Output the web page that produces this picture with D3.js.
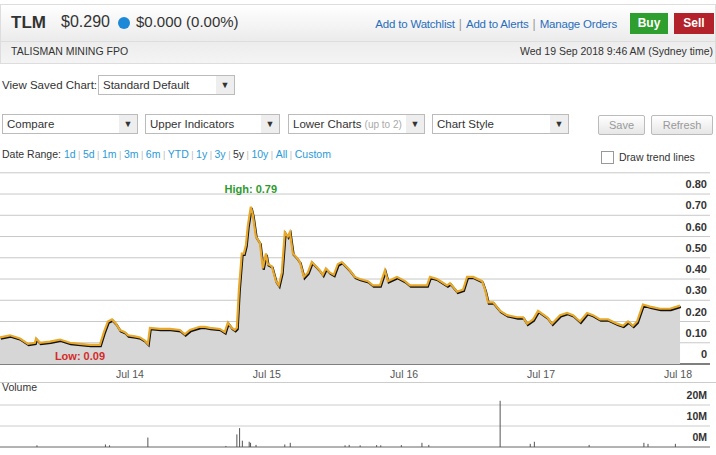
<!DOCTYPE html>
<html><head><meta charset="utf-8">
<script src="https://cdn.jsdelivr.net/npm/d3@7"></script>
<style>
body{margin:0;width:716px;height:455px;overflow:hidden;background:#fff;font-family:Arial,"Liberation Sans",sans-serif;position:relative}
.abs{position:absolute}
#hdr{left:0;top:4px;width:714px;height:58px;border:1px solid #ddd;background:linear-gradient(#fff,#ececec 60%,#f4f4f4)}
.lnk{color:#2a6ebb;font-size:11.5px;letter-spacing:-0.2px}
.sep{color:#999;font-size:12px;margin:0 4px}
.sel{height:20px;border:1px solid #bbb;background:#fff;font-size:11.5px;color:#333;box-sizing:border-box;padding:3px 4px}
.sel .arr{position:absolute;right:0;top:0;width:18px;height:18px;background:#eee;font-size:9px;text-align:center;line-height:18px}
.btn{height:18px;border:1px solid #bbb;background:linear-gradient(#fff,#e6e6e6);color:#999;font-size:11px;text-align:center;line-height:18px;border-radius:2px}
svg{position:absolute;left:0;top:0}
</style></head><body>
<div id="hdr" class="abs">
  <div class="abs" style="left:10px;top:8px;font-size:17px;font-weight:bold;color:#333">TLM</div>
  <div class="abs" style="left:60px;top:8px;font-size:16px;color:#333">$0.290</div>
  <div class="abs" style="left:117px;top:12px;width:12px;height:12px;border-radius:6px;background:#1e88d8"></div>
  <div class="abs" style="left:135px;top:8px;font-size:15px;color:#333">$0.000 (0.00%)</div>
  <div class="abs" style="right:98px;top:9px;white-space:nowrap"><span class="lnk">Add to Watchlist</span><span class="sep">|</span><span class="lnk">Add to Alerts</span><span class="sep">|</span><span class="lnk">Manage Orders</span></div>
  <div class="abs" style="left:629px;top:8px;width:38px;height:21px;background:#2e9e2e;color:#fff;font-weight:bold;font-size:12px;text-align:center;line-height:21px">Buy</div>
  <div class="abs" style="left:673px;top:8px;width:40px;height:21px;background:#b3222a;color:#fff;font-weight:bold;font-size:12px;text-align:center;line-height:21px">Sell</div>
  <div class="abs" style="left:0;top:36px;width:714px;border-top:1px solid #ddd"></div>
  <div class="abs" style="left:10px;top:40px;font-size:10.5px;color:#333">TALISMAN MINING FPO</div>
  <div class="abs" style="right:2px;top:40px;font-size:10.5px;color:#333">Wed 19 Sep 2018 9:46 AM (Sydney time)</div>
</div>
<div class="abs" style="left:2px;top:79px;font-size:11.5px;color:#333">View Saved Chart:</div>
<div class="abs sel" style="left:98px;top:75px;width:137px">Standard Default<span class="arr">▼</span></div>
<div class="abs sel" style="left:2px;top:114px;width:136px">Compare<span class="arr">▼</span></div>
<div class="abs sel" style="left:145px;top:114px;width:135px">Upper Indicators<span class="arr">▼</span></div>
<div class="abs sel" style="left:288px;top:114px;width:137px">Lower Charts <span style="color:#aaa;font-size:10px">(up to 2)</span><span class="arr">▼</span></div>
<div class="abs sel" style="left:432px;top:114px;width:137px">Chart Style<span class="arr">▼</span></div>
<div class="abs btn" style="left:598px;top:115px;width:45px">Save</div>
<div class="abs btn" style="left:651px;top:115px;width:60px">Refresh</div>
<div class="abs" style="left:2px;top:148px;font-size:10.5px;color:#333">Date Range: <span id="ranges"></span></div>
<div class="abs" style="left:601px;top:151px;width:11px;height:11px;border:1px solid #999;background:#fff"></div>
<div class="abs" style="left:619px;top:151px;font-size:10.5px;color:#333">Draw trend lines</div>
<svg id="chart" width="716" height="455"></svg>
<script>
// DATA
const rangeLabels = ['1d','5d','1m','3m','6m','YTD','1y','3y','5y','10y','All','Custom'];
const startYear = 2013.547;
const priceYears = [0,.073,.146,.204,.255,.263,.292,.365,.438,.511,.584,.657,.730,.759,.788,.818,.847,.876,.912,.934,.985,1.022,1.058,1.080,1.095,1.168,1.241,1.314,1.350,1.387,1.460,1.496,1.533,1.606,1.642,1.664,1.693,1.715,1.730,1.745,1.766,1.781,1.796,1.810,1.832,1.847,1.869,1.898,1.920,1.942,1.956,1.985,2.015,2.036,2.058,2.080,2.102,2.117,2.139,2.168,2.190,2.219,2.248,2.277,2.307,2.336,2.358,2.380,2.409,2.438,2.467,2.496,2.526,2.555,2.591,2.628,2.686,2.723,2.774,2.810,2.832,2.898,2.956,2.993,3.044,3.117,3.139,3.190,3.263,3.285,3.336,3.380,3.409,3.453,3.518,3.540,3.562,3.599,3.650,3.701,3.774,3.818,3.847,3.891,3.927,3.993,4.029,4.088,4.139,4.182,4.234,4.285,4.328,4.380,4.438,4.504,4.547,4.584,4.620,4.650,4.693,4.745,4.818,4.891,4.964];
const prices = [.125,.135,.12,.095,.10,.12,.10,.105,.115,.10,.095,.09,.09,.15,.20,.21,.19,.16,.15,.135,.13,.125,.11,.095,.17,.165,.165,.16,.14,.16,.175,.175,.17,.165,.15,.195,.17,.16,.17,.35,.52,.52,.56,.65,.74,.70,.60,.57,.45,.52,.47,.46,.39,.37,.43,.62,.60,.62,.52,.50,.48,.41,.43,.48,.46,.44,.42,.45,.43,.42,.47,.48,.46,.44,.41,.40,.39,.37,.37,.44,.39,.41,.39,.37,.37,.37,.41,.40,.37,.38,.34,.35,.41,.41,.39,.35,.29,.29,.25,.23,.22,.22,.19,.21,.25,.22,.19,.23,.24,.23,.20,.24,.23,.21,.21,.19,.18,.20,.18,.20,.28,.27,.26,.26,.275];
const volYears = [.27,.77,.80,1.08,1.65,1.73,1.75,1.77,1.82,1.83,1.87,2.08,2.12,2.52,2.55,2.63,2.75,2.78,2.93,3.08,3.13,3.65,3.87,3.90,4.30,4.70,4.73,4.93];
const volumes = [0.8,1.2,0.8,4.5,0.5,6,9,3,2.5,2,1,1.2,2,0.8,1,0.8,0.9,0.8,0.9,2,1,22,1.5,2.5,1,2,1.5,1.5];
const priceTicks = [0,.1,.2,.3,.4,.5,.6,.7,.8,.9];
const volTicks = [0,10,20];
const highLabel = 'High: 0.79', lowLabel = 'Low: 0.09';

d3.select('#ranges').selectAll('span').data(rangeLabels).join('span')
  .html((d,i) => (i ? '<span style="color:#bbb;font-size:9px"> | </span>' : ' ') +
    `<span style="color:${d==='5y'?'#333':'#2a9ad8'}">${d}</span>`);

const toDate = y => { const yr = Math.floor(y); const s = new Date(yr,0,1), e = new Date(yr+1,0,1); return new Date(+s + (y-yr)*(e-s)); };
const pdata = priceYears.map((o,i) => ({date: toDate(startYear+o), v: prices[i]}));
const vdata = volYears.map((o,i) => ({date: toDate(startYear+o), v: volumes[i]}));

const svg = d3.select('#chart');
const x = d3.scaleTime().domain([toDate(startYear), toDate(startYear+4.971)]).range([0,681]);
const y = d3.scaleLinear().domain([0,.9]).range([364,172.8]);
const yv = d3.scaleLinear().domain([0,20]).range([447,405]);

// gridlines + labels
svg.selectAll('.pg').data(priceTicks).join('line')
  .attr('x1',0).attr('x2',710).attr('y1',d=>y(d)).attr('y2',d=>y(d))
  .attr('stroke', d => d===0 ? '#555' : '#c8c8c8').attr('stroke-width', d => d===0 ? 1.5 : 1);

svg.append('path').datum(pdata)
  .attr('fill','#d6d6d6')
  .attr('d', d3.area().x(d=>x(d.date)).y0(y(0)).y1(d=>y(d.v)));
const line = d3.line().x(d=>x(d.date)).y(d=>y(d.v));
svg.append('path').datum(pdata).attr('fill','none').attr('stroke','#111').attr('stroke-width',2.2)
  .attr('transform','translate(0.8,1.3)').attr('d',line);
svg.append('path').datum(pdata).attr('fill','none').attr('stroke','#e8a82a').attr('stroke-width',2.2).attr('d',line);

svg.selectAll('.pl').data(priceTicks.slice(0,-1)).join('text')
  .attr('x',707).attr('y',d=>y(d)-6).attr('text-anchor','end')
  .attr('font-size',11).attr('font-weight','bold').attr('fill','#333')
  .text(d => d===0 ? '0' : d.toFixed(2));

const hi = pdata.reduce((a,b)=>b.v>a.v?b:a), lo = pdata.find(d=>d.v===d3.min(prices));
svg.append('text').attr('x',x(hi.date)).attr('y',y(hi.v)-14).attr('text-anchor','middle')
  .attr('font-size',11).attr('font-weight','bold').attr('fill','#2e9a2e').text(highLabel);
svg.append('text').attr('x',x(lo.date)-10).attr('y',y(lo.v)+15).attr('text-anchor','middle')
  .attr('font-size',11).attr('font-weight','bold').attr('fill','#d42a2a').text(lowLabel);

// x axis labels
svg.selectAll('.xl').data(d3.timeYear.every(1).range(x.domain()[0], x.domain()[1]).map(d=>d3.timeMonth.offset(d,6)).filter(d=>d<=x.domain()[1]))
  .join('text').attr('x',d=>x(d)).attr('y',378).attr('text-anchor','middle')
  .attr('font-size',10.5).attr('fill','#555').text(d3.timeFormat('Jul %y'));
svg.append('line').attr('x1',0).attr('x2',716).attr('y1',382.5).attr('y2',382.5).attr('stroke','#ccc');
svg.append('text').attr('x',2).attr('y',391).attr('font-size',10.5).attr('fill','#333').text('Volume');

// volume
svg.selectAll('.vg').data(volTicks).join('line')
  .attr('x1',0).attr('x2',710).attr('y1',d=>yv(d)).attr('y2',d=>yv(d))
  .attr('stroke', d => d===0 ? '#666' : '#ccc');
svg.selectAll('.vb').data(vdata).join('line')
  .attr('x1',d=>x(d.date)).attr('x2',d=>x(d.date)).attr('y1',yv(0)).attr('y2',d=>yv(d.v))
  .attr('stroke','#555').attr('stroke-width',1);
svg.selectAll('.vl').data(volTicks).join('text')
  .attr('x',707).attr('y',d=>yv(d)-6).attr('text-anchor','end')
  .attr('font-size',10.5).attr('font-weight','bold').attr('fill','#333').text(d=>d+'M');
</script>
</body></html>
